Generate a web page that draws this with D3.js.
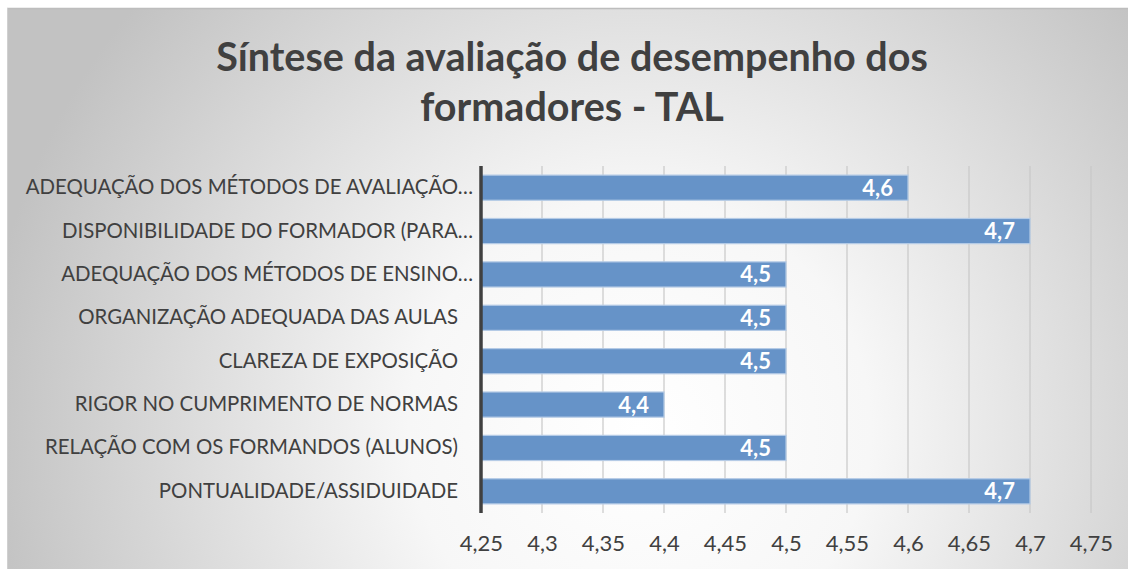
<!doctype html>
<html>
<head>
<meta charset="utf-8">
<script src="https://d3js.org/d3.v7.min.js"></script>
<style>
  body { margin: 0; background: #fff; }
</style>
</head>
<body>
<svg width="1128" height="569"></svg>
<script>
// data
var categories = [
  "ADEQUAÇÃO DOS MÉTODOS DE AVALIAÇÃO…",
  "DISPONIBILIDADE DO FORMADOR (PARA…",
  "ADEQUAÇÃO DOS MÉTODOS DE ENSINO…",
  "ORGANIZAÇÃO ADEQUADA DAS AULAS",
  "CLAREZA DE EXPOSIÇÃO",
  "RIGOR NO CUMPRIMENTO DE NORMAS",
  "RELAÇÃO COM OS FORMANDOS (ALUNOS)",
  "PONTUALIDADE/ASSIDUIDADE"
];
var values = [4.6, 4.7, 4.5, 4.5, 4.5, 4.4, 4.5, 4.7];
var ticks = [4.25, 4.3, 4.35, 4.4, 4.45, 4.5, 4.55, 4.6, 4.65, 4.7, 4.75];
var titleLines = ["Síntese da avaliação de desempenho dos", "formadores - TAL"];

var svg = d3.select("svg");
var font = "Lato, 'Open Sans', sans-serif";

// background
var defs = svg.append("defs");
var rg = defs.append("radialGradient").attr("id", "bg")
  .attr("gradientUnits", "userSpaceOnUse")
  .attr("cx", 640).attr("cy", 430).attr("r", 660);
rg.append("stop").attr("offset", "0").attr("stop-color", "#ffffff");
rg.append("stop").attr("offset", "0.35").attr("stop-color", "#f7f7f7");
rg.append("stop").attr("offset", "1").attr("stop-color", "#c2c2c2");

svg.append("rect").attr("x", 7).attr("y", 8).attr("width", 1128).attr("height", 570)
  .attr("fill", "url(#bg)");
svg.append("line").attr("x1", 7).attr("x2", 1128).attr("y1", 8.5).attr("y2", 8.5)
  .attr("stroke", "#bdbdbd").attr("stroke-width", 1.5);
svg.append("line").attr("x1", 7.5).attr("x2", 7.5).attr("y1", 8).attr("y2", 569)
  .attr("stroke", "#d0d0d0").attr("stroke-width", 1);

// title
svg.append("text")
  .attr("x", 572).attr("y", 71)
  .attr("text-anchor", "middle")
  .style("font-family", font)
  .style("font-weight", "bold")
  .style("font-size", "39.5px")
  .attr("fill", "#404040")
  .selectAll("tspan").data(titleLines).enter().append("tspan")
  .attr("x", 572).attr("dy", (d, i) => i ? 50 : 0)
  .text(d => d);

// scales
var x = d3.scaleLinear().domain([4.25, 4.75]).range([481, 1091]);
var y = d3.scaleBand().domain(categories).range([166, 513]).paddingInner(0.42).paddingOuter(0.21);

// grid
svg.append("g").selectAll("line").data(ticks.slice(1)).enter().append("line")
  .attr("x1", d => x(d)).attr("x2", d => x(d))
  .attr("y1", 166).attr("y2", 513)
  .attr("stroke", "#c8c8c8").attr("stroke-width", 1.2);

// bars
svg.append("g").selectAll("rect").data(values).enter().append("rect")
  .attr("x", x(4.25))
  .attr("y", (d, i) => y(categories[i]))
  .attr("width", d => x(d) - x(4.25))
  .attr("height", y.bandwidth())
  .attr("fill", "#6693c8")
  .attr("stroke", "#b5cbe6")
  .attr("stroke-width", 1.2);

// value labels
svg.append("g").selectAll("text").data(values).enter().append("text")
  .attr("x", d => x(d) - 15)
  .attr("y", (d, i) => y(categories[i]) + y.bandwidth() / 2 + 8)
  .attr("text-anchor", "end")
  .style("font-family", font)
  .style("font-weight", "bold")
  .style("font-size", "22px")
  .attr("fill", "#ffffff")
  .text(d => String(d).replace(".", ","));

// y axis
var yAxis = svg.append("g")
  .attr("transform", "translate(" + x(4.25) + ",0)")
  .call(d3.axisLeft(y).tickSize(0).tickPadding(8));
yAxis.select(".domain").attr("stroke", "#404040").attr("stroke-width", 3.5)
  .attr("d", "M0,166V513");
yAxis.selectAll("text")
  .style("font-family", font)
  .style("font-size", "20.4px")
  .attr("fill", "#404040")
  .attr("x", d => d.endsWith("…") ? -8 : -23);

// x axis
var xAxis = svg.append("g")
  .attr("transform", "translate(0,513)")
  .call(d3.axisBottom(x).tickValues(ticks).tickSize(0).tickPadding(22)
    .tickFormat(d => String(d).replace(".", ",")));
xAxis.select(".domain").remove();
xAxis.selectAll("text")
  .style("font-family", font)
  .style("font-size", "22px")
  .attr("fill", "#404040");
</script>
</body>
</html>
